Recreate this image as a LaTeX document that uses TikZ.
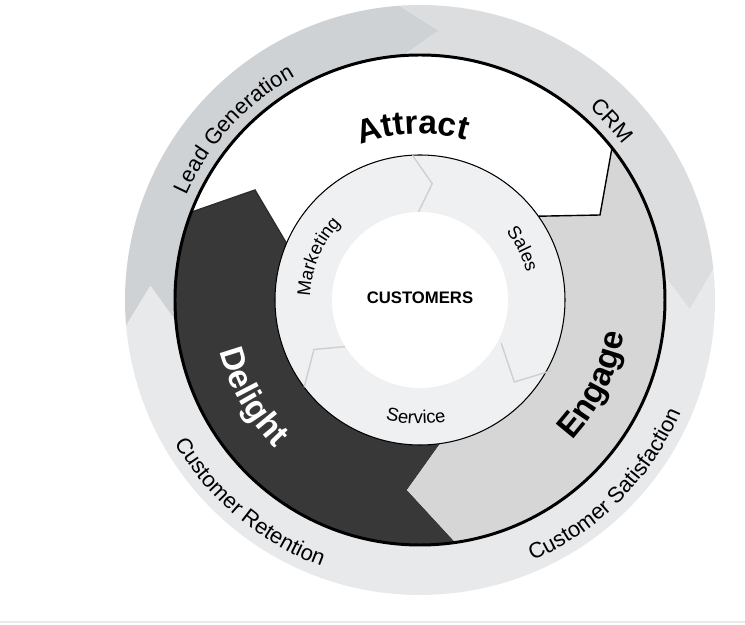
\documentclass[tikz,border=0pt]{standalone}
\usepackage{fontspec}
\setmainfont{Liberation Sans}
\usetikzlibrary{decorations.text}
\definecolor{ringA}{HTML}{CFD2D5}
\definecolor{ringB}{HTML}{DCDDDF}
\definecolor{ringC}{HTML}{E8E9EA}
\definecolor{delight}{HTML}{383838}
\definecolor{engage}{HTML}{D6D6D6}
\definecolor{midring}{HTML}{EFF0F1}
\definecolor{chev}{HTML}{CFCFCF}
\newcommand{\ringseg}[3]{%
  \fill[#3] (#1:295) arc[start angle=#1, end angle=#2, radius=295]
    -- (#2-8:270) -- (#2:245) arc[start angle=#2, end angle=#1, radius=245]
    -- (#1-8:270) -- cycle;}
\tikzset{
  curved/.style={decorate, decoration={text along path, text align=center, text={#1}}},
  chevline/.style={chev, line width=0.8pt}
}
\begin{document}
\begin{tikzpicture}[x=0.02cm, y=0.02cm]
    \useasboundingbox (-420,-325) rectangle (325,300);
    \draw[black!8, line width=0.6pt] (-420,-322) -- (325,-322);
    \node[anchor=east, text=black!45, font=\fontsize{11}{13}\selectfont] (cutA) at (-414,65) {e};
    \node[anchor=east, text=black!45, font=\fontsize{11}{13}\selectfont] (cutB) at (-414,-18) {d};

    % outer ring
    \ringseg{185}{94}{ringA}
    \ringseg{94}{6}{ringB}
    \ringseg{6}{-86}{ringC}
    \ringseg{-86}{-175}{ringC}

    % stages
    \fill[white] (0,0) circle[radius=245];
    \fill[delight] (159:245) -- (-165,110) -- (157:145)
        arc[start angle=157, end angle=278, radius=145] -- (-13,-190) -- (278.3:245)
        arc[start angle=278.3, end angle=159, radius=245] -- cycle;
    \draw[delight!80!black, line width=0.8pt] (159:245) -- (-165,110) -- (157:145);
    \fill[engage] (38.4:245) -- (180,85) -- (35.3:145)
        arc[start angle=35.3, end angle=-82, radius=145] -- (-13,-190) -- (-81.7:245)
        arc[start angle=-81.7, end angle=38.4, radius=245] -- cycle;
    \draw[line width=0.8pt] (38.4:245) -- (180,85) -- (35.3:145);
    \draw[line width=1.7pt] (0,0) circle[radius=245];

    % teams
    \draw[fill=midring, line width=0.6pt] (0,0) circle[radius=145];
    \draw[chevline] (93:145) -- (84:117) -- (91:88);
    \draw[chevline] (217:145) -- (205:117) -- (212:88);
    \draw[chevline] (-28:150) -- (-41:125) -- (-28:92);
    \fill[white] (0,0) circle[radius=88];
    \node[font=\bfseries\fontsize{9.5}{11}\selectfont] (customers) at (0,2) {CUSTOMERS};

    % labels
    \path[curved={|\fontsize{12.5}{15}\selectfont|Lead Generation}] (162:256) arc[start angle=162, end angle=113, radius=256];
    \path[curved={|\fontsize{12.5}{15}\selectfont|CRM}] (52:256) arc[start angle=52, end angle=34, radius=256];
    \path[curved={|\fontsize{12.5}{15}\selectfont|Customer Satisfaction}] (-76:284) arc[start angle=-76, end angle=-14, radius=284];
    \path[curved={|\fontsize{12.5}{15}\selectfont|Customer Retention}] (200:284) arc[start angle=200, end angle=260, radius=284];
    \path[curved={|\bfseries\fontsize{19}{22}\selectfont|Attract}] (117:166) arc[start angle=117, end angle=68, radius=166];
    \path[curved={|\bfseries\fontsize{19}{22}\selectfont\color{white}|Delight}] (184:207) arc[start angle=184, end angle=236, radius=207];
    \path[curved={|\bfseries\fontsize{19}{22}\selectfont|Engage}] (-52:207) arc[start angle=-52, end angle=0, radius=207];
    \path[curved={|\fontsize{10.5}{12}\selectfont|Marketing}] (187:110) arc[start angle=187, end angle=127, radius=110];
    \path[curved={|\fontsize{10.5}{12}\selectfont|Sales}] (45:110) arc[start angle=45, end angle=8, radius=110];
    \path[curved={|\fontsize{10.5}{12}\selectfont|Service}] (243:124) arc[start angle=243, end angle=293, radius=124];
\end{tikzpicture}
\end{document}
